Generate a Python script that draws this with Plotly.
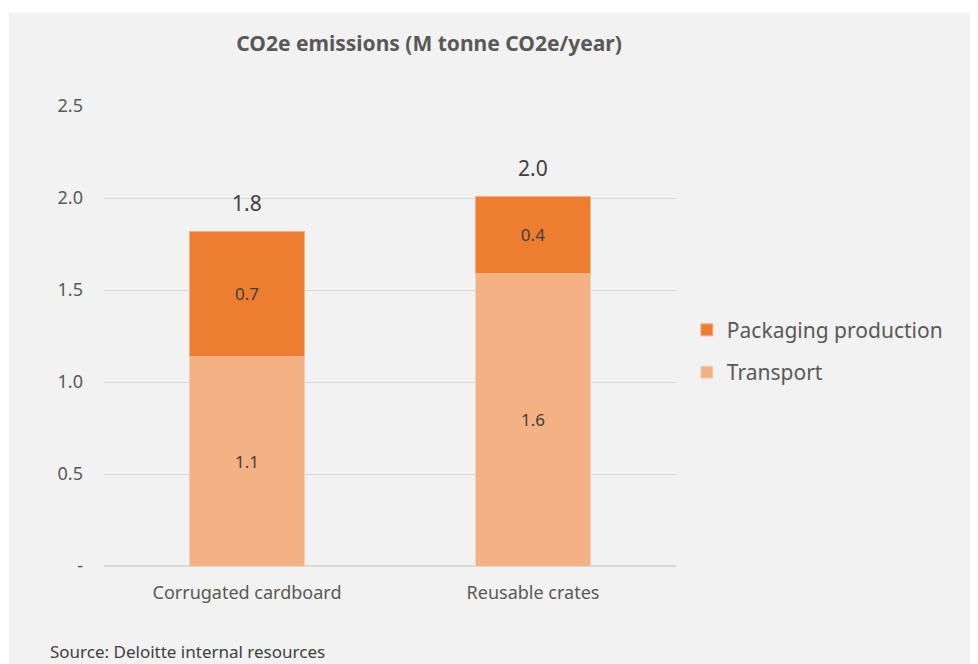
import plotly.graph_objects as go

# datos
categorias = ["Corrugated cardboard", "Reusable crates"]
transporte = [1.14, 1.59]
empaque = [0.68, 0.42]
etiquetas_transporte = ["1.1", "1.6"]
etiquetas_empaque = ["0.7", "0.4"]
totales = [round(t + e, 2) for t, e in zip(transporte, empaque)]
etiquetas_total = ["1.8", "2.0"]
ticks_y = [0, 0.5, 1.0, 1.5, 2.0, 2.5]
ticks_y_texto = ["-", "0.5", "1.0", "1.5", "2.0", "2.5"]

fuente = "Noto Sans"
gris_texto = "#595959"

# el body de la pagina agrega 8px de margen, por eso 970x656
W, H = 970, 656
L, R, T, B = 96, 302, 98, 98
ancho = W - L - R
alto = H - T - B

fig = go.Figure()
fig.add_trace(go.Bar(
    x=categorias, y=transporte, name="Transport", legendgroup="t", legendrank=2,
    marker=dict(color="#F4B183", line=dict(color="#F8D0B4", width=1)),
    text=etiquetas_transporte, textposition="inside", insidetextanchor="middle",
    textfont=dict(color="#404040", size=17, family=fuente),
))
fig.add_trace(go.Bar(
    x=categorias, y=empaque, name="Packaging production", legendgroup="p", legendrank=1,
    marker=dict(color="#ED7D31", line=dict(color="#F4B183", width=1)),
    text=etiquetas_empaque, textposition="inside", insidetextanchor="middle",
    textfont=dict(color="#404040", size=17, family=fuente),
))

# totales encima de cada barra
notas = [dict(x=c, y=v, text=t, showarrow=False, yshift=28, yanchor="middle",
              font=dict(size=21, color="#404040", family=fuente))
         for c, v, t in zip(categorias, totales, etiquetas_total)]
notas.append(dict(text="Source: Deloitte internal resources", xref="paper", yref="paper",
                  x=(40 - L) / ancho, y=(H - B - 643) / alto, xanchor="left", yanchor="middle",
                  showarrow=False, font=dict(size=17, color="#404040", family=fuente)))

fig.update_layout(
    width=W, height=H,
    barmode="stack", bargap=0.6,
    margin=dict(l=L, r=R, t=T, b=B),
    paper_bgcolor="white", plot_bgcolor="rgba(0,0,0,0)",
    font=dict(family=fuente, color=gris_texto, size=16),
    title=dict(text="<b>CO2e emissions (M tonne CO2e/year)</b>",
               xref="container", x=421 / W, xanchor="center", y=1 - 36 / H, yanchor="middle",
               font=dict(size=21, color=gris_texto, family=fuente)),
    legend=dict(x=1.019, xanchor="left", y=0.467, yanchor="middle",
                traceorder="grouped",
                font=dict(size=21, color=gris_texto, family=fuente),
                bgcolor="rgba(0,0,0,0)", tracegroupgap=12),
    shapes=[dict(type="rect", xref="paper", yref="paper", layer="below",
                 x0=(1 - L) / ancho, x1=1.6, y0=-0.3, y1=(H - B - 5) / alto,
                 fillcolor="#F2F2F2", line=dict(width=0))],
    annotations=notas,
)
fig.update_yaxes(range=[0, 2.5], tickvals=ticks_y, ticktext=ticks_y_texto,
                 showgrid=True, gridcolor="#D9D9D9", gridwidth=1, zeroline=True,
                 zerolinecolor="#D9D9D9", ticks="", ticklabelstandoff=20,
                 tickfont=dict(size=18, color=gris_texto))
fig.update_xaxes(showline=False, ticks="", ticklabelstandoff=14,
                 tickfont=dict(size=18, color=gris_texto))

fig.write_html("out.html")
